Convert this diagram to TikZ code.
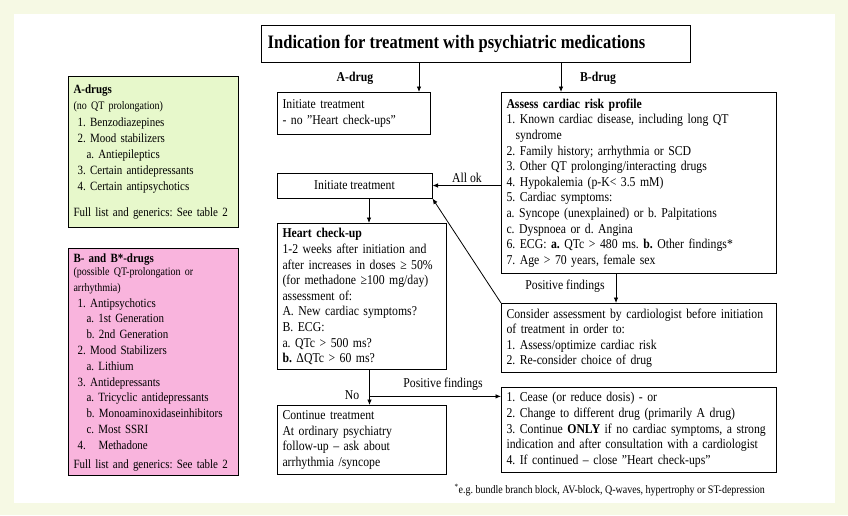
\documentclass[tikz,border=0pt]{standalone}
\usepackage{fontspec}
\setmainfont{Liberation Serif}[FakeStretch=0.87]
\usepackage{tikz}
\usetikzlibrary{arrows.meta,positioning,calc}

\definecolor{pagetint}{RGB}{246,249,228}
\definecolor{agreen}{RGB}{231,248,203}
\definecolor{bpink}{RGB}{249,180,221}
\newcommand{\flowfont}{\fontsize{13.5}{15.6}\selectfont}
\newcommand{\listfont}{\fontsize{12.6}{15.8}\selectfont}
\newcommand{\smallnote}{\fontsize{11.5}{13.2}\selectfont}
\frenchspacing

\begin{document}
\begin{tikzpicture}[
    x=1pt, y=-1pt,
    >={Latex[length=5.5pt,width=4.5pt]},
    box/.style={draw, line width=1pt, anchor=north west, inner sep=5pt,
      align=left, font=\flowfont},
    listbox/.style={box, text width=160pt, font=\listfont},
    arr/.style={->, line width=0.8pt},
    lbl/.style={font=\flowfont, inner sep=1pt},
  ]
  % Page
  \fill[pagetint] (0,0) rectangle (848,515);
  \fill[white] (14,14) rectangle (835,503);
  \useasboundingbox (0,0) rectangle (848,515);

  % Title
  \node[draw, line width=1pt, minimum width=429pt, minimum height=37pt] (title) at (475.5,43.5) {};
  \node[anchor=west, inner sep=0pt, font=\fontsize{19}{22}\selectfont\bfseries]
    (titletext) at ([xshift=7pt]title.west)
    {Indication for treatment with psychiatric medications};

  % Drug lists (left)
  \node[listbox, fill=agreen, minimum height=151pt] (adrugs) at (68,76) {
    \textbf{A-drugs}\\
    {\smallnote (no QT prolongation)}\\[2pt]
    \ 1.\ Benzodiazepines\\
    \ 2.\ Mood stabilizers\\
    \hspace{13pt}a.\ Antiepileptics\\
    \ 3.\ Certain antidepressants\\
    \ 4.\ Certain antipsychotics\\[11pt]
    Full list and generics: See table 2};
  \node[listbox, fill=bpink, minimum height=223pt] (bdrugs) at (68,248) {
    \textbf{B- and B*-drugs}\\
    {\smallnote (possible QT-prolongation or\\arrhythmia)}\\
    \ 1.\ Antipsychotics\\
    \hspace{13pt}a.\ 1st Generation\\
    \hspace{13pt}b.\ 2nd Generation\\
    \ 2.\ Mood Stabilizers\\
    \hspace{13pt}a.\ Lithium\\
    \ 3.\ Antidepressants\\
    \hspace{13pt}a.\ Tricyclic antidepressants\\
    \hspace{13pt}b.\ Monoaminoxidaseinhibitors\\
    \hspace{13pt}c.\ Most SSRI\\
    \ 4.\ \ \ Methadone\\[3pt]
    Full list and generics: See table 2};

  % A-drug branch
  \node[box, text width=143pt, minimum height=42pt] (first) at (277,92)
    {Initiate treatment\\- no "Heart check-ups"};

  % B-drug branch
  \node[box, text width=265pt, minimum height=181pt] (risk) at (501,92) {
    \textbf{Assess cardiac risk profile}\\
    1. Known cardiac disease, including long QT\\
    \hspace{9pt}syndrome\\
    2. Family history; arrhythmia or SCD\\
    3. Other QT prolonging/interacting drugs\\
    4. Hypokalemia (p-K< 3.5 mM)\\
    5. Cardiac symptoms:\\
    a. Syncope (unexplained) or b. Palpitations\\
    c. Dyspnoea or d. Angina\\
    6. ECG: \textbf{a.} QTc > 480 ms. \textbf{b.} Other findings*\\
    7. Age > 70 years, female sex};
  \node[draw, line width=1pt, minimum width=155pt, minimum height=25pt,
    font=\flowfont] (init) at (354.5,185.5) {Initiate treatment};
  \node[box, text width=159pt, minimum height=143pt] (heart) at (277,223) {
    \textbf{Heart check-up}\\
    1-2 weeks after initiation and\\
    after increases in doses ≥ 50\%\\
    (for methadone ≥100 mg/day)\\
    assessment of:\\
    A. New cardiac symptoms?\\
    B. ECG:\\
    a. QTc > 500 ms?\\
    \textbf{b.} ΔQTc > 60 ms?};
  \node[box, text width=159pt, minimum height=69pt] (cont) at (277,405) {
    Continue treatment\\
    At ordinary psychiatry\\
    follow-up – ask about\\
    arrhythmia /syncope};
  \node[box, text width=265pt, minimum height=65pt] (consider) at (501,303) {
    Consider assessment by cardiologist before initiation\\
    of treatment in order to:\\
    1. Assess/optimize cardiac risk\\
    2. Re-consider choice of drug};
  \node[box, text width=265pt, minimum height=83pt] (cease) at (501,387) {
    1. Cease (or reduce dosis) - or\\
    2. Change to different drug (primarily A drug)\\
    3. Continue \textbf{ONLY} if no cardiac symptoms, a strong\\
    indication and after consultation with a cardiologist\\
    4. If continued – close "Heart check-ups"};

  % Connectors
  \draw[arr] ([xshift=-12pt]first.north east |- title.south)
    -- ([xshift=-12pt]first.north east);
  \draw[arr] ([xshift=60pt]risk.north west |- title.south)
    -- ([xshift=60pt]risk.north west);
  \node[lbl, font=\flowfont\bfseries] (alabel) at (355,78) {A-drug};
  \node[lbl, font=\flowfont\bfseries] (blabel) at (598,78) {B-drug};

  \draw[arr] (risk.west |- init.east) -- (init.east);
  \node[lbl] (okl) at (467,178) {All ok};
  \draw[arr] (consider.north west) -- (init.south east);

  \draw[arr] ([xshift=14.5pt]init.south) -- ([xshift=14.5pt]init.south |- heart.north);
  \draw[arr] ([xshift=7.5pt]heart.south) -- ([xshift=7.5pt]heart.south |- cont.north);
  \node[lbl] (nol) at (352,395) {No};
  \coordinate (split) at ([xshift=7.5pt,yshift=-26pt]heart.south);
  \draw[arr] (split) -- (split -| cease.west);
  \node[lbl] (posl) at (443,384) {Positive findings};

  \draw[arr] ([xshift=115pt]risk.south west) -- ([xshift=115pt]consider.north west);
  \node[lbl] (posr) at (565,286) {Positive findings};

  % Footnote
  \node[anchor=east, font=\fontsize{11.5}{13}\selectfont, inner sep=0pt] (foot) at (765,490)
    {\textsuperscript{*}e.g. bundle branch block, AV-block, Q-waves, hypertrophy or ST-depression};
\end{tikzpicture}
\end{document}
